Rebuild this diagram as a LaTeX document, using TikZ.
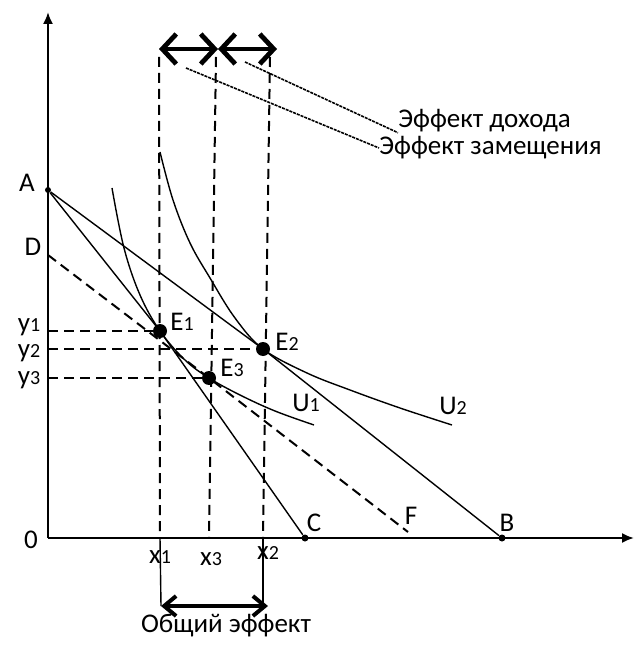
\documentclass[tikz,border=0pt]{standalone}
\usepackage{fontspec}
\setmainfont{Carlito}
\usetikzlibrary{arrows.meta, calc}

\newcommand{\idx}[1]{{\fontsize{10}{10}\selectfont #1}}

\begin{document}
\begin{tikzpicture}[x=0.5pt, y=-0.5pt]
\tikzset{
    every node/.style={font=\fontsize{13.5}{15}\selectfont, inner sep=0pt},
    axis/.style={line width=1pt, -{Latex[length=6pt, width=5pt]}},
    budget/.style={line width=0.7pt},
    indiff/.style={line width=0.7pt},
    guide/.style={line width=1pt, dash pattern=on 5pt off 3pt},
    effect/.style={line width=2.4pt, {Straight Barb[length=7pt, width=15pt]}-{Straight Barb[length=7pt, width=15pt]}},
    total/.style={line width=2pt, {Straight Barb[length=6pt, width=10pt]}-{Straight Barb[length=6pt, width=10pt]}},
    leader/.style={line width=0.8pt, dash pattern=on 1.5pt off 0.5pt},
    optimum/.style={circle, fill, minimum size=7pt},
    dot/.style={circle, fill, minimum size=3.5pt}
}
\useasboundingbox (0,0) rectangle (636,646);

% axes
\coordinate (O) at (48,538);
\coordinate (ytop) at (48,12);
\coordinate (xend) at (634,538);
\draw[axis] (O) -- (ytop);
\draw[axis] (O) -- (xend);
\node (zero) at (31,540) {0};

% budget lines
\node[dot, minimum size=3pt] (A) at (48,190) {};
\node[dot] (B) at (502,538) {};
\node[dot] (C) at (305,538) {};
\coordinate (D) at (48,255);
\coordinate (F) at (408,532);
\coordinate (E1) at (160,331);
\coordinate (E2) at (263,349);
\coordinate (E3) at (209,378);
\draw[budget] (A) -- (E1) -- (C);
\draw[budget] (A) -- (E2) -- (B);
\draw[guide] (D) -- (E3) -- (F);

% indifference curves
\draw[indiff] plot[smooth, tension=0.6] coordinates {(112,188) (124,248) (140,295) (160,331) (185,360) (209,378) (240,395) (275,411) (314,425)};
\draw[indiff] plot[smooth, tension=0.6] coordinates {(160,152) (173,200) (190,243) (210,278) (235,318) (263,349) (307,373) (350,390) (400,408) (452,425)};

% projections
\coordinate (x1) at (160,538);
\coordinate (x3) at (209,538);
\coordinate (x2) at (263,538);
\coordinate (x1top) at (159,57);
\coordinate (x3top) at (216,57);
\coordinate (x2top) at (270,57);
\draw[guide] (48,331) -- (E1);
\draw[guide] (48,349) -- (E2);
\draw[guide] (48,378) -- (E3);
\draw[guide] (x1top) -- (x1);
\draw[guide] (x3top) -- (x3);
\draw[guide] (x2top) -- (x2);

% equilibrium points
\node[optimum] (P1) at (E1) {};
\node[optimum] (P2) at (E2) {};
\node[optimum] (P3) at (E3) {};

% effects
\coordinate (sl) at (159,49);
\coordinate (sm) at (218,49);
\coordinate (sr) at (277,49);
\draw[effect] (sl) -- (sm);
\draw[effect] (sm) -- (sr);
\coordinate (tl) at (161,606);
\coordinate (tr) at (268,606);
\draw[line width=0.7pt] (x1) -- (tl);
\draw[line width=0.7pt] (x2) -- (263,606);
\draw[total] (tl) -- (tr);

\node[anchor=west] (income) at (398,121) {Эффект дохода};
\node[anchor=west] (substitution) at (379,148) {Эффект замещения};
\draw[leader] (245,62) -- (income.south west);
\draw[leader] (186,68) -- (substitution.west);
\node (totaltext) at (226,626) {Общий эффект};

% labels
\node (lA) at (27,183) {A};
\node (lD) at (33,247) {D};
\node (lB) at (507,523) {B};
\node (lC) at (314,523) {C};
\node (lF) at (411,516) {F};
\node (lE1) at (182,322) {E\idx{1}};
\node (lE2) at (287,342) {E\idx{2}};
\node (lE3) at (232,368) {E\idx{3}};
\node (lU1) at (306,403) {U\idx{1}};
\node (lU2) at (453,406) {U\idx{2}};
\node (ly1) at (29,327) {y\idx{1}};
\node (ly2) at (29,353) {y\idx{2}};
\node (ly3) at (29,380) {y\idx{3}};
\node (lx1) at (160,557) {x\idx{1}};
\node (lx3) at (211,559) {x\idx{3}};
\node (lx2) at (268,553) {x\idx{2}};
\end{tikzpicture}
\end{document}
